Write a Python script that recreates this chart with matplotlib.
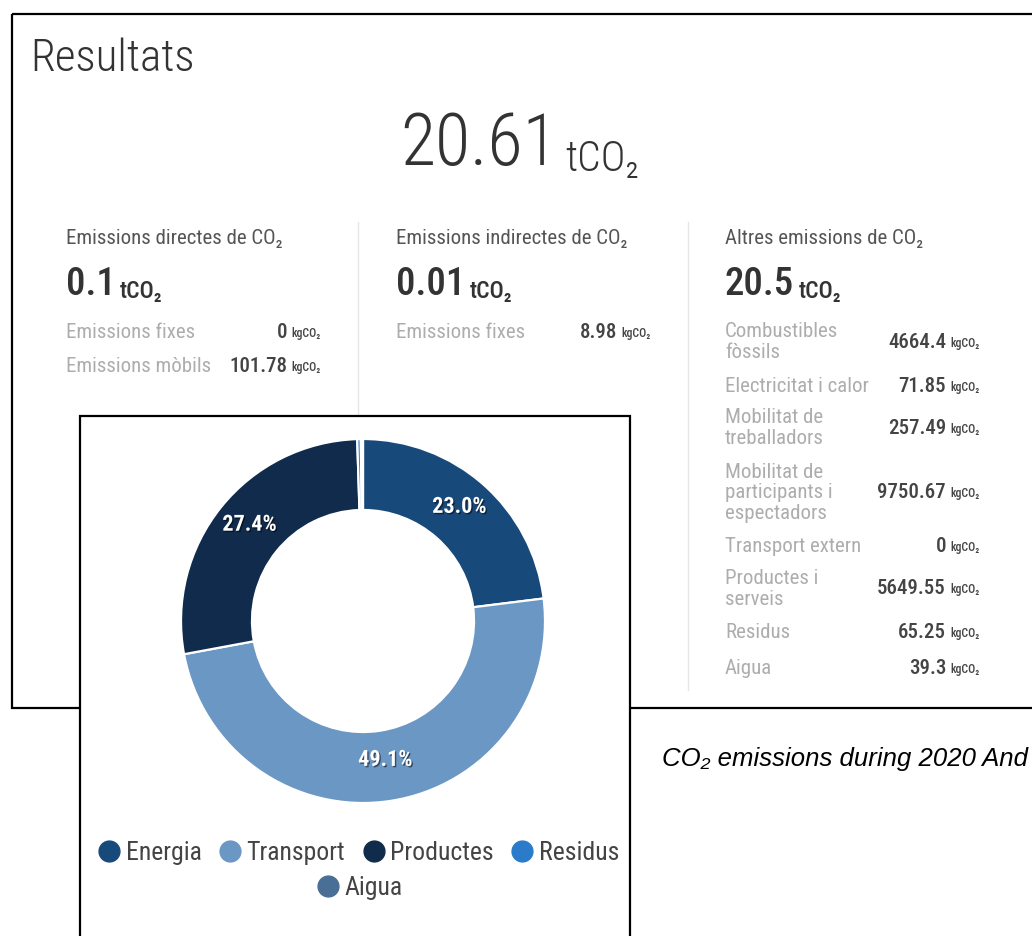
import matplotlib
matplotlib.use('Agg')
import matplotlib.pyplot as plt
import matplotlib.patheffects as pe
from matplotlib.patches import Rectangle
from matplotlib.lines import Line2D
from matplotlib.transforms import ScaledTranslation

plt.rcParams['font.family'] = ['Roboto Condensed', 'DejaVu Sans']

# --- data (kgCO2) ---
direct_labels = ['Emissions fixes', 'Emissions mòbils']
direct_values = [0, 101.78]
indirect_labels = ['Emissions fixes']
indirect_values = [8.98]
other_labels = ['Combustibles\nfòssils', 'Electricitat i calor', 'Mobilitat de\ntreballadors',
                'Mobilitat de\nparticipants i\nespectadors', 'Transport extern',
                'Productes i\nserveis', 'Residus', 'Aigua']
other_values = [4664.4, 71.85, 257.49, 9750.67, 0, 5649.55, 65.25, 39.3]

categories = ['Energia', 'Transport', 'Productes', 'Residus', 'Aigua']
cat_values = [other_values[0] + other_values[1] + indirect_values[0],
              direct_values[0] + direct_values[1] + other_values[2] + other_values[3] + other_values[4],
              other_values[5], other_values[6], other_values[7]]
cat_colors = ['#18497b', '#6b97c4', '#102b4b', '#2a7bca', '#4a6f96']


def tonnes(v):
    return f"{round(sum(v) / 1000, 2):g}"


fig = plt.figure(figsize=(10.32, 9.36), dpi=100)
ax = fig.add_axes([0, 0, 1, 1])
ax.set_xlim(0, 1032)
ax.set_ylim(936, 0)
ax.axis('off')

# top panel frame
ax.add_patch(Rectangle((12, 14), 1060, 694, fill=False, edgecolor='black', lw=1.6, zorder=1))
ax.text(30, 71, 'Resultats', fontsize=32.5, fontweight=300, color='#333333', va='baseline')

total = tonnes(direct_values + indirect_values + other_values)
t_big = ax.text(558, 165, total, fontsize=52, fontweight=300, color='#333333', ha='right', va='baseline')
ax.annotate('tCO₂', xy=(1, 0), xycoords=t_big, xytext=(5, 0), textcoords='offset points',
            fontsize=30, fontweight=300, color='#333333', va='bottom')

# column separators
ax.plot([358, 358], [222, 416], color='#e6e6e6', lw=1)
ax.plot([688, 688], [222, 690], color='#e6e6e6', lw=1)

columns = [
    (66, 287, 'Emissions directes de CO₂', direct_values, direct_labels, [333, 367]),
    (396, 617, 'Emissions indirectes de CO₂', indirect_values, indirect_labels, [333]),
    (725, 946, 'Altres emissions de CO₂', other_values, other_labels,
     [342, 386, 428, 493, 547, 589, 633, 668]),
]
for x0, xr, head, vals, labs, ys in columns:
    ax.text(x0, 238, head, fontsize=15, color='#555555', va='center')
    t = ax.text(x0, 295, tonnes(vals), fontsize=28, fontweight=500, color='#333333', va='baseline')
    ax.annotate('tCO₂', xy=(1, 0), xycoords=t, xytext=(3, 0), textcoords='offset points',
                fontsize=17, fontweight=500, color='#333333', va='bottom')
    for lab, v, y in zip(labs, vals, ys):
        ax.text(x0, y, lab, fontsize=15, color='#adadad', va='center', linespacing=1.13)
        ax.text(xr, y, f"{v:g}", fontsize=15, fontweight=500, color='#444444', ha='right', va='center')
        ax.text(xr + 4, y + 1, 'kgCO₂', fontsize=8.5, fontweight=500, color='#444444', va='center')

# caption (cut at the right edge as in the reference)
ax.text(662, 759, 'CO₂ emissions during 2020 And', fontsize=18.5, style='italic',
        family=['Liberation Sans', 'DejaVu Sans'], color='black', va='center', clip_on=True)

# donut panel box
ax.add_patch(Rectangle((80, 416), 550, 600, facecolor='white', edgecolor='black', lw=1.6, zorder=5))

pax = fig.add_axes([181 / 1032, 1 - 803 / 936, 364 / 1032, 364 / 936])
wedges, texts, autotexts = pax.pie(
    cat_values, colors=cat_colors, startangle=90, counterclock=False,
    autopct=lambda p: f'{p:.1f}%' if p > 5 else '', pctdistance=0.80,
    wedgeprops=dict(width=0.39, edgecolor='white', linewidth=1.6))
lift = ScaledTranslation(0, 5 / 100, fig.dpi_scale_trans)
for at in autotexts:
    at.set_color('white')
    at.set_fontsize(16)
    at.set_fontweight('bold')
    at.set_transform(at.get_transform() + lift)
    at.set_path_effects([pe.withSimplePatchShadow(offset=(1, -1), shadow_rgbFace='black', alpha=0.5)])
pax.set_xlim(-1, 1)
pax.set_ylim(-1, 1)
pax.set_aspect('equal')

handles = [Line2D([], [], marker='o', linestyle='', markersize=15,
                  markerfacecolor=c, markeredgecolor=c) for c in cat_colors]
leg_kw = dict(loc='center', frameon=False, fontsize=18.5, handlelength=0.8,
              handletextpad=0.25, columnspacing=0.7, labelcolor='#444444', borderpad=0)
fig.legend(handles[:4], categories[:4], ncol=4, bbox_to_anchor=(359 / 1032, 1 - 853 / 936), **leg_kw)
fig.legend(handles[4:], categories[4:], ncol=1, bbox_to_anchor=(360 / 1032, 1 - 888 / 936), **leg_kw)

fig.savefig('out.png', dpi=100)
